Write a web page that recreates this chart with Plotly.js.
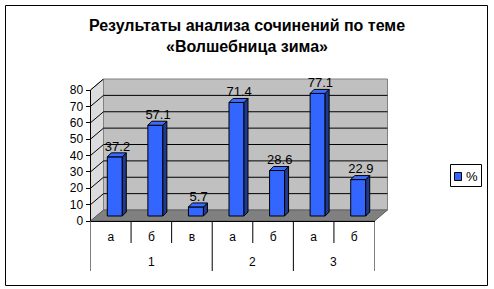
<!DOCTYPE html>
<html>
<head>
<meta charset="utf-8">
<script src="https://cdn.plot.ly/plotly-3.0.1.min.js"></script>
<style>html,body{margin:0;padding:0;background:#fff;}#chart{width:494px;height:289px;}</style>
</head>
<body>
<div id="chart"></div>
<script>
// ---- data ----
const groups = ['1', '1', '1', '2', '2', '3', '3'];
const subs = ['а', 'б', 'в', 'а', 'б', 'а', 'б'];
const values = [37.2, 57.1, 5.7, 71.4, 28.6, 77.1, 22.9];
const yTicks = [0, 10, 20, 30, 40, 50, 60, 70, 80];
const seriesName = '%';
const titleText = 'Результаты анализа сочинений по теме<br>«Волшебница зима»';

// ---- geometry (pixels) ----
const W = 494, H = 289;
const FX0 = 90.5, FX1 = 374.5;   // front floor edge left/right
const FY0 = 221, FY1 = 90;       // front y of 0 and of top tick
const DX = 13, DY = 11;          // depth of the 3D box
const BY0 = 216;                 // bars' floor line (mid depth)
const S = 1.59;                  // px per unit on the bars' plane
const n = subs.length;
const U = (FX1 - FX0) / n;       // px per category
const yMax = yTicks[yTicks.length - 1];
const idx = subs.map((s, i) => i);

const barOffset = -3.5 / U, barWidth = 15 / U;
const ddx = 4 / U, ddy = 4 / S;

const px = x => x / W, py = y => 1 - y / H;
const P = (x, y) => px(x) + ',' + py(y);

const BLUE = '#3366ff', SIDE = '#1f3a8f', TOP = '#3a6dff';
const FONT = 'Liberation Sans, Arial, sans-serif';

// side and top faces from data
const sideX = [], sideY = [], topX = [], topY = [];
values.forEach((v, i) => {
  const xL = i + barOffset, xR = xL + barWidth;
  sideX.push(xR, xR + ddx, xR + ddx, xR, xR, null);
  sideY.push(0, ddy, v + ddy, v, 0, null);
  topX.push(xL, xR, xR + ddx, xL + ddx, xL, null);
  topY.push(v, v, v + ddy, v + ddy, v, null);
});

const traces = [
  {
    type: 'bar', x: idx, y: values, name: seriesName,
    xaxis: 'x', yaxis: 'y',
    offset: barOffset, width: barWidth,
    marker: {color: BLUE, line: {color: '#000', width: 1}},
    hoverinfo: 'none', showlegend: false
  },
  {
    type: 'scatter', x: sideX, y: sideY, xaxis: 'x', yaxis: 'y',
    mode: 'lines', fill: 'toself', fillcolor: SIDE,
    line: {color: '#000', width: 1}, hoverinfo: 'none', showlegend: false
  },
  {
    type: 'scatter', x: topX, y: topY, xaxis: 'x', yaxis: 'y',
    mode: 'lines', fill: 'toself', fillcolor: TOP,
    line: {color: '#000', width: 1}, hoverinfo: 'none', showlegend: false
  },
  {
    type: 'scatter', mode: 'text', xaxis: 'x', yaxis: 'y',
    x: idx.map(i => i + barOffset + barWidth / 2 + 2.7 / U),
    y: values.map(v => v + 9.5 / S),
    text: values.map(v => v.toFixed(1)),
    textfont: {family: FONT, size: 13, color: '#000'},
    textposition: 'middle center', hoverinfo: 'none', showlegend: false,
    cliponaxis: false
  }
];

const shapes = [];
// back wall
shapes.push({type: 'rect', xref: 'paper', yref: 'paper', layer: 'below',
  x0: px(FX0 + DX), x1: px(FX1 + DX), y0: py(FY0 - DY), y1: py(FY1 - DY),
  fillcolor: '#c0c0c0', line: {color: '#808080', width: 1}});
// left wall
shapes.push({type: 'path', xref: 'paper', yref: 'paper', layer: 'below',
  path: 'M' + P(FX0, FY0) + 'L' + P(FX0, FY1) + 'L' + P(FX0 + DX, FY1 - DY) + 'L' + P(FX0 + DX, FY0 - DY) + 'Z',
  fillcolor: '#dcdcdc', line: {color: '#808080', width: 1}});
// floor
shapes.push({type: 'path', xref: 'paper', yref: 'paper', layer: 'below',
  path: 'M' + P(FX0, FY0) + 'L' + P(FX1, FY0) + 'L' + P(FX1 + DX, FY0 - DY) + 'L' + P(FX0 + DX, FY0 - DY) + 'Z',
  fillcolor: '#808080', line: {color: '#606060', width: 1}});
// gridlines on the side and back walls
yTicks.forEach(v => {
  if (v <= 0) return;
  shapes.push({type: 'line', xref: 'paper', yref: 'y2', ysizemode: 'pixel', yanchor: v, layer: 'below',
    x0: px(FX0), x1: px(FX0 + DX), y0: 0, y1: DY, line: {color: '#000', width: 1}});
  if (v < yMax) {
    shapes.push({type: 'line', xref: 'paper', yref: 'y2', ysizemode: 'pixel', yanchor: v, layer: 'below',
      x0: px(FX0 + DX), x1: px(FX1 + DX), y0: DY, y1: DY, line: {color: '#000', width: 1}});
  }
});
// front value-axis line
shapes.push({type: 'line', xref: 'paper', yref: 'y2', layer: 'below',
  x0: px(FX0), x1: px(FX0), y0: 0, y1: yMax, line: {color: '#000', width: 1}});
// category ticks: short between sub-categories, long dividers between groups
const annotations = [];
for (let b = 0; b <= n; b++) {
  const isGroupEdge = b === 0 || b === n || groups[b - 1] !== groups[b];
  shapes.push({type: 'line', xref: 'x', yref: 'paper', layer: 'below',
    x0: b - 0.5, x1: b - 0.5, y0: py(FY0), y1: py(isGroupEdge ? 271 : 243),
    line: {color: '#000', width: 1}});
}
// group labels (second category row)
let start = 0;
for (let i = 1; i <= n; i++) {
  if (i === n || groups[i] !== groups[start]) {
    annotations.push({xref: 'x', yref: 'paper', x: (start + i - 1) / 2, y: py(262),
      text: groups[start], showarrow: false, xanchor: 'center', yanchor: 'middle',
      font: {family: FONT, size: 12, color: '#000'}});
    start = i;
  }
}
// chart border
shapes.push({type: 'rect', xref: 'paper', yref: 'paper', layer: 'below',
  x0: px(5.5), x1: px(487.5), y0: py(285.5), y1: py(5.5), line: {color: '#000', width: 1}});
// legend box and swatch
shapes.push({type: 'rect', xref: 'paper', yref: 'paper', layer: 'above',
  x0: px(450.5), x1: px(481.5), y0: py(186.5), y1: py(164.5), fillcolor: '#fff', line: {color: '#000', width: 1}});
shapes.push({type: 'rect', xref: 'paper', yref: 'paper', layer: 'above',
  x0: px(454.5), x1: px(461.5), y0: py(180.5), y1: py(172.5), fillcolor: BLUE, line: {color: '#000', width: 1}});
annotations.push({
  xref: 'paper', yref: 'paper', x: px(472), y: py(176), text: seriesName,
  showarrow: false, xanchor: 'center', yanchor: 'middle',
  font: {family: FONT, size: 13, color: '#000'}
});

const layout = {
  width: W, height: H,
  margin: {l: 0, r: 0, t: 0, b: 0, pad: 0},
  paper_bgcolor: '#fff', plot_bgcolor: 'rgba(0,0,0,0)',
  showlegend: false,
  font: {family: FONT, size: 12, color: '#000'},
  title: {
    text: titleText, x: 0.5, xanchor: 'center', y: py(31), yanchor: 'top',
    font: {family: FONT, size: 16, weight: 'bold', color: '#000'}
  },
  xaxis: {
    domain: [px(FX0), px(FX1)], range: [-0.5, n - 0.5], anchor: 'y',
    tickmode: 'array', tickvals: idx, ticktext: subs,
    showline: true, linecolor: '#000', linewidth: 1,
    ticks: 'outside', ticklen: 5, tickcolor: 'rgba(0,0,0,0)',
    showgrid: false, zeroline: false, tickfont: {family: FONT, size: 12, color: '#000'}
  },
  yaxis: {
    domain: [py(FY0), py(FY1 - DY)], anchor: 'x',
    range: [-(FY0 - BY0) / S, (BY0 - (FY1 - DY)) / S], visible: false
  },
  yaxis2: {
    overlaying: 'y', anchor: 'x', side: 'left',
    range: [0, yMax * (FY0 - (FY1 - DY)) / (FY0 - FY1)],
    tickmode: 'array', tickvals: yTicks, ticktext: yTicks.map(String),
    ticks: 'outside', ticklen: 4, tickcolor: '#000',
    showgrid: false, zeroline: false, showline: false,
    tickfont: {family: FONT, size: 12, color: '#000'}
  },
  shapes: shapes,
  annotations: annotations
};

Plotly.newPlot('chart', traces, layout, {staticPlot: true, displayModeBar: false});
</script>
</body>
</html>
